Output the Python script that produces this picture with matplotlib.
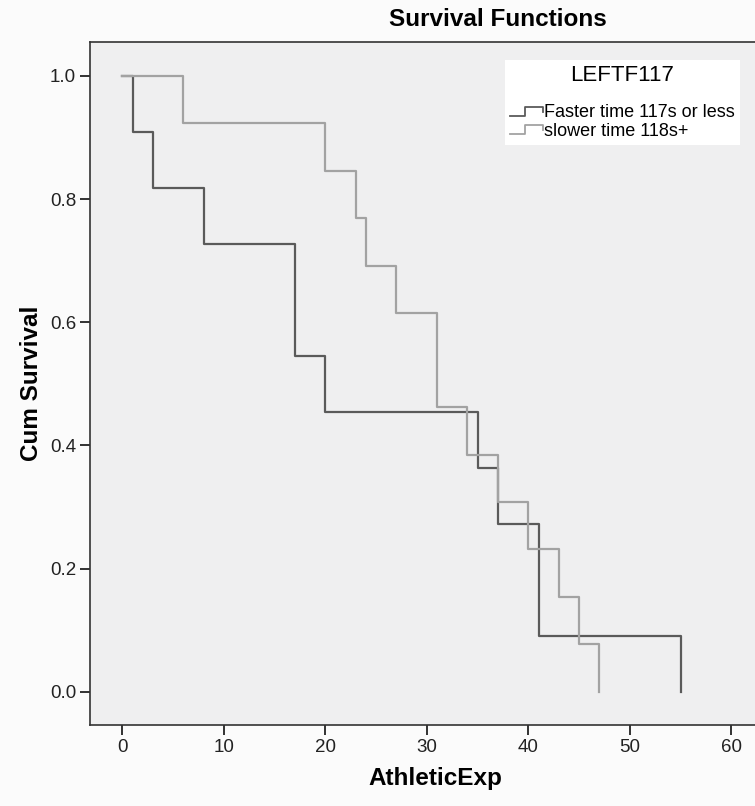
import matplotlib
matplotlib.use("Agg")
import matplotlib.pyplot as plt
from matplotlib.lines import Line2D
from matplotlib.legend_handler import HandlerBase

plt.rcParams['font.family'] = ['Liberation Sans', 'DejaVu Sans']

# ----- data (Kaplan-Meier steps)
fast_time = [0, 1, 3, 8, 17, 20, 35, 37, 41, 55]
fast_surv = [1.0, 0.909, 0.818, 0.727, 0.545, 0.455, 0.364, 0.273, 0.091, 0.0]
slow_time = [0, 6, 20, 23, 24, 27, 31, 34, 37, 40, 43, 45, 47]
slow_surv = [1.0, 0.923, 0.846, 0.769, 0.692, 0.615, 0.462, 0.385, 0.308, 0.231, 0.154, 0.077, 0.0]

group_labels = ["Faster time 117s or less", "slower time 118s+"]
x_ticks = [0, 10, 20, 30, 40, 50, 60]
y_ticks = [0.0, 0.2, 0.4, 0.6, 0.8, 1.0]


# little step glyph for the legend, like SPSS draws it
class StepHandler(HandlerBase):
    def create_artists(self, legend, orig_handle, xdescent, ydescent,
                       width, height, fontsize, trans):
        xs = [0, 0.45 * width, 0.45 * width, width, width]
        ys = [0.1 * height, 0.1 * height, 0.85 * height, 0.85 * height, 0.45 * height]
        xs = [x - xdescent for x in xs]
        ys = [y - ydescent for y in ys]
        ln = Line2D(xs, ys, color=orig_handle.get_color(), lw=1.3)
        ln.set_transform(trans)
        return [ln]


fig = plt.figure(figsize=(7.55, 8.06), dpi=100, facecolor='#fbfbfb')
ax = fig.add_axes([90 / 755, 81 / 806, 690 / 755, 683 / 806])
ax.set_facecolor('#efeff0')

l1, = ax.step(fast_time, fast_surv, where='post', color='#5a5a5a', lw=1.6, zorder=3)
l2, = ax.step(slow_time, slow_surv, where='post', color='#a2a2a2', lw=1.6, zorder=4)

ax.set_xlim(-3.2, 64.8)
ax.set_ylim(-0.054, 1.055)
ax.set_xticks(x_ticks)
ax.set_yticks(y_ticks)
ax.set_yticklabels([f"{v:.1f}" for v in y_ticks])
ax.tick_params(axis='both', direction='out', length=7, width=1.3, labelsize=13.5,
               colors='#222222', pad=3)
for s in ax.spines.values():
    s.set_color('#333333')
    s.set_linewidth(1.2)

ax.set_xlabel("AthleticExp", fontsize=17.5, fontweight='bold', labelpad=8)
ax.set_ylabel("Cum Survival", fontsize=17.5, fontweight='bold', labelpad=5)
fig.text(498 / 755, 1 - 20 / 806, "Survival Functions", fontsize=17.5,
         fontweight='bold', ha='center', va='center')

leg = ax.legend([l1, l2], group_labels, title="LEFTF117",
                handler_map={Line2D: StepHandler()},
                loc='upper left', bbox_to_anchor=((505 - 90) / 690, (725 - 60) / 683),
                fontsize=13, title_fontsize=16, frameon=True, fancybox=False,
                handlelength=1.8, handletextpad=0.05, labelspacing=0.06,
                borderpad=0.3, borderaxespad=0)
leg._legend_box.sep = 13
leg.get_frame().set_facecolor('white')
leg.get_frame().set_edgecolor('none')
leg.get_frame().set_alpha(1)

fig.savefig("out.png", dpi=100, facecolor=fig.get_facecolor())
